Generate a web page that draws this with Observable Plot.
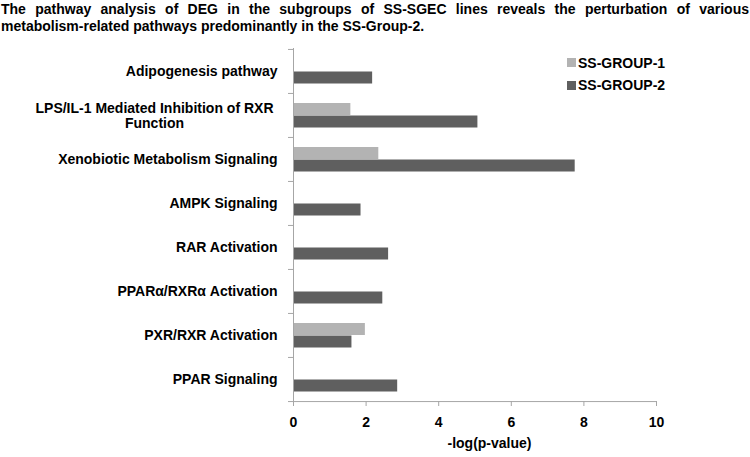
<!DOCTYPE html>
<html>
<head>
<meta charset="utf-8">
<script src="https://cdn.jsdelivr.net/npm/d3@7"></script>
<script src="https://cdn.jsdelivr.net/npm/@observablehq/plot@0.6"></script>
<style>
  body { margin: 0; background: #fff; font-family: "Liberation Sans", Arial, sans-serif; }
  #wrap { position: relative; width: 750px; height: 457px; overflow: hidden; }
  #title { position: absolute; left: 1px; top: 1px; width: 748px; font-weight: bold; font-size: 14px; line-height: 17px; color: #000; }
  #title .l1 { text-align: justify; text-align-last: justify; }
  #chart { position: absolute; left: 0; top: 40px; }
  #legend { position: absolute; left: 567px; top: 51.5px; font-weight: bold; font-size: 14px; color: #000; }
  #legend .item { display: flex; align-items: center; height: 22.5px; }
  #legend .sw { width: 9px; height: 9px; margin-right: 2px; }
  svg [aria-label$="axis tick"] { stroke: #a6a6a6; }
</style>
</head>
<body>
<div id="wrap">
  <div id="title"></div>
  <div id="chart"></div>
  <div id="legend"></div>
</div>
<script>
const titleLines = [
  "The pathway analysis of DEG in the subgroups of SS-SGEC lines reveals the perturbation of various",
  "metabolism-related pathways predominantly in the SS-Group-2."
];
const categories = [
  "Adipogenesis pathway",
  "LPS/IL-1 Mediated Inhibition of RXR\nFunction",
  "Xenobiotic Metabolism Signaling",
  "AMPK Signaling",
  "RAR Activation",
  "PPARα/RXRα Activation",
  "PXR/RXR Activation",
  "PPAR Signaling"
];
const group1 = [null, 1.58, 2.35, null, null, null, 1.98, null];
const group2 = [2.18, 5.08, 7.76, 1.86, 2.62, 2.46, 1.61, 2.87];
const seriesNames = ["SS-GROUP-1", "SS-GROUP-2"];
const seriesColors = ["#b3b3b3", "#5f5f5f"];
const xTicks = [0, 2, 4, 6, 8, 10];
const xLabel = "-log(p-value)";

// title
const t = document.getElementById("title");
titleLines.forEach((line, i) => {
  const d = document.createElement("div");
  d.className = i === 0 ? "l1" : "l2";
  d.textContent = line;
  t.appendChild(d);
});

// legend
const lg = document.getElementById("legend");
seriesNames.forEach((name, i) => {
  const it = document.createElement("div");
  it.className = "item";
  const sw = document.createElement("span");
  sw.className = "sw";
  sw.style.background = seriesColors[i];
  const tx = document.createElement("span");
  tx.textContent = name;
  it.appendChild(sw); it.appendChild(tx);
  lg.appendChild(it);
});

const rows1 = categories.map((c, i) => ({category: c, value: group1[i]})).filter(d => d.value != null);
const rows2 = categories.map((c, i) => ({category: c, value: group2[i]})).filter(d => d.value != null);

const H = 417, MT = 8, MB = 56;
const step = (H - MT - MB) / categories.length;
const singleLine = categories.filter(c => !c.includes("\n"));
const multiLine = categories.filter(c => c.includes("\n"));
const axisColor = "#a6a6a6";
const font = {fontSize: 14, fontWeight: "bold"};

const chart = Plot.plot({
  width: 750,
  height: H,
  marginTop: MT,
  marginBottom: MB,
  marginLeft: 293,
  marginRight: 94,
  style: {fontFamily: '"Liberation Sans", Arial, sans-serif', background: "transparent", overflow: "visible", color: "#000"},
  x: {domain: [0, 10], label: null},
  y: {domain: categories, padding: 0, label: null},
  marks: [
    Plot.barX(rows1, {y: "category", x: "value", fill: seriesColors[0], insetTop: 10, insetBottom: 22}),
    Plot.barX(rows2, {y: "category", x: "value", fill: seriesColors[1], insetTop: 22.5, insetBottom: 9.5}),
    Plot.ruleX([0], {stroke: axisColor}),
    Plot.ruleY([categories[categories.length - 1]], {stroke: axisColor, dy: step / 2}),
    Plot.axisY({tickSize: 5, tickFormat: () => "", dy: -step / 2, label: null}),
    Plot.axisY({ticks: [categories[categories.length - 1]], tickSize: 5, tickFormat: () => "", dy: step / 2, label: null}),
    Plot.axisX({ticks: xTicks, tickSize: 5, tickPadding: 11, label: null, ...font}),
    Plot.text(singleLine, {y: d => d, text: d => d, frameAnchor: "left", textAnchor: "end", dx: -16, ...font}),
    Plot.text(multiLine, {y: d => d, text: d => d, frameAnchor: "left", textAnchor: "middle", dx: -139, lineHeight: 1.05, ...font}),
    Plot.text([xLabel], {text: d => d, frameAnchor: "bottom", dx: 14.5, dy: 46, ...font})
  ]
});
document.getElementById("chart").appendChild(chart);
</script>
</body>
</html>
